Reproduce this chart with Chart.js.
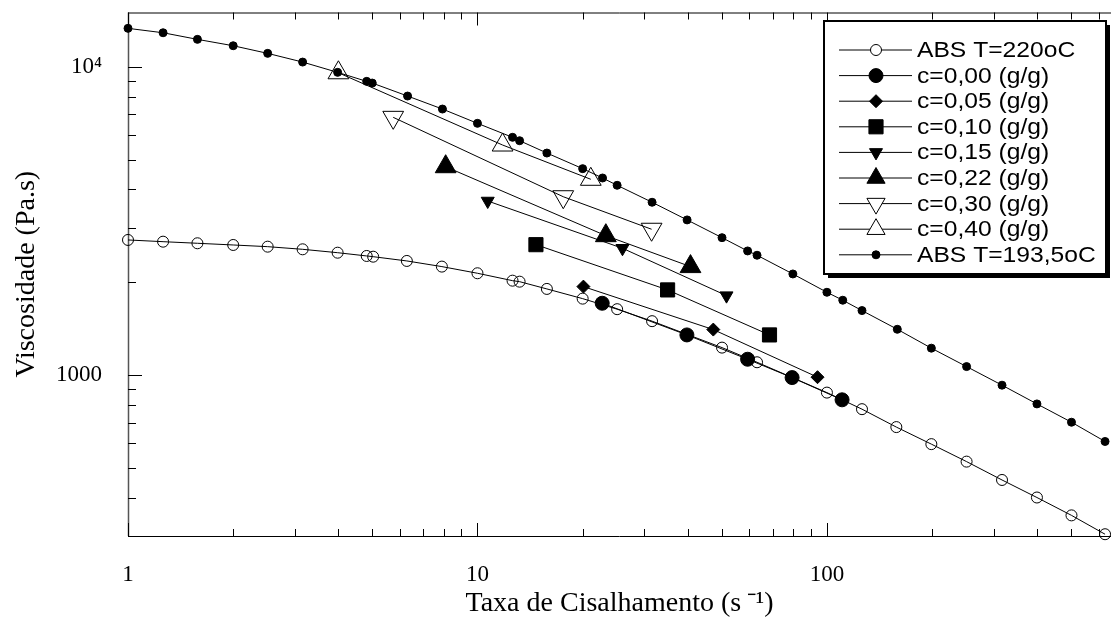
<!DOCTYPE html>
<html>
<head>
<meta charset="utf-8">
<script src="https://cdn.jsdelivr.net/npm/chart.js@4.4.1/dist/chart.umd.min.js"></script>
<style>
  html, body { margin: 0; padding: 0; background: #fff; }
  canvas { display: block; }
</style>
</head>
<body>
<canvas id="viscChart" width="1111" height="622"></canvas>
<script>
// taxa de cisalhamento (1/s) e viscosidade (Pa.s)
const abs220Rate = [1, 1.26, 1.58, 2.0, 2.51, 3.16, 3.98, 4.82, 5.03, 6.28, 7.91, 10, 12.6, 13.2, 15.8, 20, 25.1, 31.6, 50.1, 63.1, 100, 126, 158, 199, 251, 317, 399, 501, 625];
const abs220Visc = [2741, 2706, 2674, 2640, 2607, 2556, 2492, 2432, 2419, 2343, 2246, 2137, 2022, 2007, 1901, 1768, 1634, 1494, 1226, 1099, 876, 774, 677, 596, 523, 456, 400, 350, 304];

const c000Rate = [22.75, 39.75, 59.3, 79.5, 110.5];
const c000Visc = [1708, 1348, 1124, 980, 830];

const c005Rate = [20.1, 47.3, 94];
const c005Visc = [1934, 1403, 983];

const c010Rate = [14.7, 35.0, 68.5];
const c010Visc = [2646, 1887, 1348];

const c015Rate = [10.7, 26.0, 51.6];
const c015Visc = [3667, 2576, 1808];

const c022Rate = [8.11, 23.3, 40.7];
const c022Visc = [4738, 2830, 2246];

const c030Rate = [5.74, 17.6, 31.5];
const c030Visc = [6853, 3786, 2969];

const c040Rate = [4.0, 11.8, 21.1];
const c040Visc = [9561, 5572, 4313];

const abs193Rate = [1, 1.26, 1.58, 2.0, 2.51, 3.16, 3.98, 4.82, 5.0, 6.31, 7.94, 10, 12.6, 13.2, 15.8, 20, 22.8, 25.1, 31.6, 39.8, 50.1, 59.3, 63.1, 79.9, 100, 111, 126, 159, 199, 251, 317, 399, 501, 625];
const abs193Visc = [13325, 12893, 12271, 11700, 11053, 10356, 9590, 8966, 8853, 8035, 7291, 6552, 5902, 5754, 5248, 4670, 4355, 4124, 3633, 3184, 2788, 2525, 2445, 2126, 1854, 1747, 1617, 1406, 1221, 1064, 926, 805, 702, 608];

const seriesNames = ["ABS T=220oC", "c=0,00 (g/g)", "c=0,05 (g/g)", "c=0,10 (g/g)", "c=0,15 (g/g)",
                     "c=0,22 (g/g)", "c=0,30 (g/g)", "c=0,40 (g/g)", "ABS T=193,5oC"];
const seriesRates = [abs220Rate, c000Rate, c005Rate, c010Rate, c015Rate, c022Rate, c030Rate, c040Rate, abs193Rate];
const seriesViscs = [abs220Visc, c000Visc, c005Visc, c010Visc, c015Visc, c022Visc, c030Visc, c040Visc, abs193Visc];

const xLabelValues = [1, 10, 100];
const xLabelTexts = ["1", "10", "100"];
const yLabelValues = [1000, 10000];
const yLabelTexts = ["1000", "10\u2074"];

// estilo dos marcadores, na mesma ordem das séries
const markerStyles = [
  { shape: "circle", radius: 5.5, rotation: 0, filled: false },
  { shape: "circle", radius: 7, rotation: 0, filled: true },
  { shape: "rectRot", radius: 6.5, rotation: 0, filled: true },
  { shape: "rect", radius: 10, rotation: 0, filled: true },
  { shape: "triangle", radius: 7.5, rotation: 180, filled: true },
  { shape: "triangle", radius: 12, rotation: 0, filled: true },
  { shape: "triangle", radius: 12, rotation: 180, filled: false },
  { shape: "triangle", radius: 12, rotation: 0, filled: false },
  { shape: "circle", radius: 4, rotation: 0, filled: true }
];

const serif = "'Liberation Serif', 'Times New Roman', serif";
const sans = "'Liberation Sans', Arial, sans-serif";

function labelFor(value, values, texts) {
  for (let i = 0; i < values.length; i++) {
    if (Math.abs(value - values[i]) < values[i] * 1e-6) return texts[i];
  }
  return "";
}

const datasets = seriesNames.map((name, i) => {
  const st = markerStyles[i];
  return {
    label: name,
    data: seriesRates[i].map((x, k) => ({ x: x, y: seriesViscs[i][k] })),
    showLine: true,
    borderColor: "#000",
    borderWidth: 1,
    pointStyle: st.shape,
    pointRadius: st.radius,
    pointRotation: st.rotation,
    pointBorderWidth: 1,
    pointBorderColor: "#000",
    pointBackgroundColor: st.filled ? "#000" : "rgba(0,0,0,0)",
    clip: false
  };
});

// marcas de escala para dentro, nos eixos inferior, superior e esquerdo
function logValues(min, max) {
  const out = [];
  for (let e = Math.floor(Math.log10(min)); e <= Math.ceil(Math.log10(max)); e++) {
    for (let m = 1; m <= 9; m++) {
      const v = m * Math.pow(10, e);
      if (v >= min * 0.9999 && v <= max * 1.0001) out.push({ v: v, major: m === 1 });
    }
  }
  return out;
}

const frameTicks = {
  id: "frameTicks",
  beforeDatasetsDraw(chart) {
    const { ctx, chartArea: a, scales: { x, y } } = chart;
    ctx.save();
    ctx.lineWidth = 1;
    ctx.strokeStyle = "#000";
    ctx.beginPath();
    ctx.moveTo(a.left, a.top + 0.5); ctx.lineTo(a.right, a.top + 0.5);
    ctx.moveTo(a.left, a.bottom + 0.5); ctx.lineTo(a.right, a.bottom + 0.5);
    ctx.stroke();
    ctx.strokeStyle = "#555";
    ctx.lineWidth = 1.5;
    ctx.beginPath();
    ctx.moveTo(a.left + 0.5, a.top); ctx.lineTo(a.left + 0.5, a.bottom);
    ctx.stroke();

    ctx.strokeStyle = "#000";
    ctx.lineWidth = 1;
    ctx.beginPath();
    logValues(x.min, x.max).forEach(t => {
      const px = Math.round(x.getPixelForValue(t.v)) + 0.5;
      const len = t.major ? 13 : 7;
      ctx.moveTo(px, a.bottom); ctx.lineTo(px, a.bottom - len);
      ctx.moveTo(px, a.top); ctx.lineTo(px, a.top + len);
    });
    logValues(y.min, y.max).forEach(t => {
      const py = Math.round(y.getPixelForValue(t.v)) + 0.5;
      const len = t.major ? 14 : 8;
      ctx.moveTo(a.left, py); ctx.lineTo(a.left + len, py);
    });
    ctx.stroke();
    ctx.restore();
  }
};

// legenda dentro da área do gráfico, com caixa e sombra
const boxLegend = {
  id: "boxLegend",
  afterDraw(chart) {
    const ctx = chart.ctx;
    const bx = 824, by = 21, bw = 282, bh = 253;
    ctx.save();
    ctx.fillStyle = "#000";
    ctx.fillRect(bx + 4, by + 4, bw, bh);
    ctx.fillStyle = "#fff";
    ctx.fillRect(bx, by, bw, bh);
    ctx.lineWidth = 2;
    ctx.strokeStyle = "#000";
    ctx.strokeRect(bx, by, bw, bh);

    chart.data.datasets.forEach((ds, i) => {
      const cy = 50 + i * 25.6;
      ctx.strokeStyle = "#000";
      ctx.lineWidth = 1;
      ctx.beginPath();
      ctx.moveTo(839, cy); ctx.lineTo(912, cy);
      ctx.stroke();
      ctx.fillStyle = markerStyles[i].filled ? "#000" : "#fff";
      const r = Math.min(ds.pointRadius, 10.5);
      Chart.helpers.drawPoint(ctx, {
        pointStyle: ds.pointStyle, rotation: ds.pointRotation, radius: r, borderWidth: 1
      }, 876, cy);

      ctx.save();
      ctx.translate(917, cy);
      ctx.scale(1.12, 1);
      ctx.fillStyle = "#000";
      ctx.font = "22px " + sans;
      ctx.textBaseline = "middle";
      ctx.fillText(ds.label, 0, 1);
      ctx.restore();
    });
    ctx.restore();
  }
};

new Chart(document.getElementById("viscChart"), {
  type: "scatter",
  data: { datasets: datasets },
  options: {
    responsive: false,
    animation: false,
    devicePixelRatio: 1,
    layout: { autoPadding: false, padding: { top: 12.5, right: 0, bottom: 0, left: 0 } },
    plugins: { legend: { display: false }, tooltip: { enabled: false } },
    scales: {
      x: {
        type: "logarithmic",
        min: 1,
        max: 650,
        grid: { display: false },
        border: { display: false },
        ticks: {
          autoSkip: false,
          maxRotation: 0,
          padding: 17,
          color: "#000",
          font: { family: serif, size: 23 },
          callback: v => labelFor(v, xLabelValues, xLabelTexts)
        },
        title: {
          display: true,
          text: "Taxa de Cisalhamento (s\u2009\u207B\u00B9)",
          color: "#000",
          font: { family: serif, size: 28 },
          padding: 2
        },
        afterFit: s => { s.height = 86; s.paddingLeft = 0; s.paddingRight = 0; }
      },
      y: {
        type: "logarithmic",
        min: 300,
        max: 15000,
        grid: { display: false },
        border: { display: false },
        ticks: {
          autoSkip: false,
          padding: 18,
          color: "#000",
          font: { family: serif, size: 23 },
          callback: v => labelFor(v, yLabelValues, yLabelTexts)
        },
        title: {
          display: true,
          text: "Viscosidade (Pa.s)",
          color: "#000",
          font: { family: serif, size: 28 },
          padding: 10
        },
        afterFit: s => { s.width = 128; s.paddingTop = 0; s.paddingBottom = 0; }
      }
    }
  },
  plugins: [frameTicks, boxLegend]
});
</script>
</body>
</html>
